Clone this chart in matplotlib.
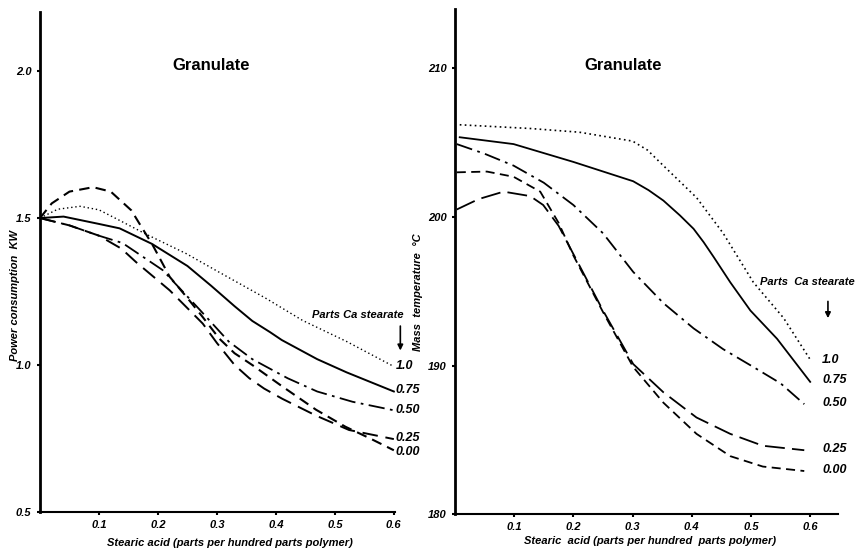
import matplotlib
matplotlib.use("Agg")
import matplotlib.pyplot as plt

plt.rcParams['font.family'] = ['Liberation Sans', 'DejaVu Sans']

# left panel: power consumption (KW) vs stearic acid, per parts Ca stearate
p10_x = [0, 0.03, 0.068, 0.1, 0.135, 0.18, 0.248, 0.3, 0.383, 0.445, 0.52, 0.6]
p10_y = [1.5, 1.53, 1.54, 1.528, 1.492, 1.445, 1.379, 1.32, 1.227, 1.152, 1.08, 0.995]
p075_x = [0, 0.04, 0.1, 0.135, 0.19, 0.25, 0.29, 0.33, 0.36, 0.39, 0.41, 0.47, 0.52, 0.6]
p075_y = [1.5, 1.505, 1.48, 1.465, 1.412, 1.337, 1.27, 1.2, 1.15, 1.112, 1.085, 1.02, 0.975, 0.91]
p050_x = [0, 0.05, 0.1, 0.14, 0.208, 0.27, 0.32, 0.36, 0.383, 0.42, 0.47, 0.53, 0.6]
p050_y = [1.5, 1.475, 1.44, 1.415, 1.323, 1.19, 1.08, 1.02, 0.995, 0.955, 0.91, 0.875, 0.846]
p025_x = [0, 0.05, 0.1, 0.138, 0.163, 0.22, 0.276, 0.3, 0.33, 0.355, 0.38, 0.411, 0.468, 0.524, 0.6]
p025_y = [1.5, 1.475, 1.44, 1.396, 1.35, 1.254, 1.141, 1.075, 1.0, 0.955, 0.92, 0.885, 0.828, 0.779, 0.748]
p000_x = [0, 0.02, 0.05, 0.09, 0.12, 0.155, 0.172, 0.19, 0.22, 0.25, 0.276, 0.304, 0.33, 0.36, 0.411, 0.468, 0.518, 0.56, 0.6]
p000_y = [1.5, 1.55, 1.59, 1.605, 1.59, 1.526, 1.47, 1.412, 1.30, 1.228, 1.163, 1.09, 1.04, 1.0, 0.927, 0.848, 0.79, 0.75, 0.71]

# right panel: mass temperature (deg C)
t10_x = [0.008, 0.127, 0.21, 0.3, 0.325, 0.352, 0.408, 0.453, 0.504, 0.555, 0.6]
t10_y = [206.2, 205.95, 205.7, 205.1, 204.5, 203.45, 201.3, 198.9, 195.6, 193.2, 190.4]
t075_x = [0.008, 0.099, 0.2, 0.301, 0.327, 0.352, 0.38, 0.403, 0.42, 0.437, 0.465, 0.499, 0.544, 0.6]
t075_y = [205.36, 204.9, 203.7, 202.4, 201.8, 201.1, 200.1, 199.2, 198.3, 197.3, 195.6, 193.7, 191.8, 188.9]
t050_x = [0.003, 0.05, 0.099, 0.15, 0.2, 0.25, 0.301, 0.352, 0.403, 0.453, 0.504, 0.55, 0.59]
t050_y = [204.9, 204.25, 203.45, 202.3, 200.8, 198.9, 196.3, 194.2, 192.5, 191.1, 189.9, 188.8, 187.4]
t025_x = [0.003, 0.04, 0.082, 0.127, 0.149, 0.175, 0.2, 0.25, 0.301, 0.352, 0.408, 0.465, 0.52, 0.59]
t025_y = [200.5, 201.2, 201.7, 201.4, 200.8, 199.4, 197.5, 193.7, 190.1, 188.2, 186.5, 185.4, 184.6, 184.3]
t000_x = [0.003, 0.054, 0.099, 0.144, 0.175, 0.2, 0.25, 0.301, 0.352, 0.408, 0.465, 0.52, 0.59]
t000_y = [203.0, 203.05, 202.7, 201.7, 199.6, 197.4, 193.6, 189.9, 187.5, 185.4, 183.9, 183.2, 182.9]

series_names = ['1.0', '0.75', '0.50', '0.25', '0.00']
left_series = [(p10_x, p10_y), (p075_x, p075_y), (p050_x, p050_y), (p025_x, p025_y), (p000_x, p000_y)]
right_series = [(t10_x, t10_y), (t075_x, t075_y), (t050_x, t050_y), (t025_x, t025_y), (t000_x, t000_y)]
left_label_y = [0.996, 0.914, 0.846, 0.751, 0.703]
right_label_y = [190.4, 189.0, 187.5, 184.4, 183.0]

xticks = [0.1, 0.2, 0.3, 0.4, 0.5, 0.6]
left_yticks = [0.5, 1.0, 1.5, 2.0]
right_yticks = [180, 190, 200, 210]

left_styles = [dict(linestyle=(0, (1, 2)), linewidth=1.0),
               dict(linestyle='-', linewidth=1.4),
               dict(linestyle=(0, (9, 3, 1.5, 3)), linewidth=1.3),
               dict(linestyle=(0, (8, 4)), linewidth=1.4),
               dict(linestyle=(0, (5, 3)), linewidth=1.5)]
right_styles = [dict(linestyle=(0, (1, 2)), linewidth=1.2),
                dict(linestyle='-', linewidth=1.3),
                dict(linestyle=(0, (9, 3, 1.5, 3)), linewidth=1.3),
                dict(linestyle=(0, (11, 4)), linewidth=1.3),
                dict(linestyle=(0, (5, 3)), linewidth=1.3)]

lbl = dict(fontsize=8, fontweight='bold', fontstyle='italic')

fig = plt.figure(figsize=(8.58, 5.54), dpi=100)
ax1 = fig.add_axes([0.0466, 0.0758, 0.4138, 0.902])
ax2 = fig.add_axes([0.5303, 0.072, 0.4464, 0.912])


def style_axes(ax, yticks):
    for s in ['top', 'right']:
        ax.spines[s].set_visible(False)
    ax.spines['left'].set_linewidth(2)
    ax.spines['bottom'].set_linewidth(1.5)
    ax.set_xticks(xticks)
    ax.set_xticklabels([f'{v:.1f}' for v in xticks], **lbl)
    ax.set_yticks(yticks)
    ax.tick_params(length=2, width=1.5, pad=4)


# left panel
for (x, y), st in zip(left_series, left_styles):
    ax1.plot(x, y, color='black', **st)
for name, ly in zip(series_names, left_label_y):
    ax1.text(0.603, ly, name, ha='left', va='center', fontsize=9,
             fontweight='bold', fontstyle='italic', clip_on=False)
ax1.set_xlim(0, 0.602)
ax1.set_ylim(0.5, 2.2)
style_axes(ax1, left_yticks)
ax1.set_yticklabels([f'{v:.1f}' for v in left_yticks], **lbl)
ax1.set_ylabel('Power consumption  KW', **lbl)
ax1.yaxis.set_label_coords(-0.056, 0.434)
ax1.set_xlabel('Stearic acid (parts per hundred parts polymer)', **lbl)
ax1.xaxis.set_label_coords(0.535, -0.052)
ax1.text(0.29, 2.02, 'Granulate', ha='center', va='center', fontsize=12, fontweight='bold')
ax1.text(0.539, 1.17, 'Parts Ca stearate', ha='center', va='center', **lbl)
ax1.annotate('', xy=(0.611, 1.04), xytext=(0.611, 1.142), annotation_clip=False,
             arrowprops=dict(arrowstyle='-|>', color='black', lw=1.2, mutation_scale=8))

# right panel
for (x, y), st in zip(right_series, right_styles):
    ax2.plot(x, y, color='black', **st)
for name, ly in zip(series_names, right_label_y):
    ax2.text(0.62, ly, name, ha='left', va='center', fontsize=9,
             fontweight='bold', fontstyle='italic', clip_on=False)
ax2.set_xlim(0, 0.647)
ax2.set_ylim(180, 214)
style_axes(ax2, right_yticks)
ax2.set_yticklabels([str(v) for v in right_yticks], **lbl)
ax2.set_ylabel('Mass  temperature  \u00b0C', **lbl)
ax2.yaxis.set_label_coords(-0.084, 0.44)
ax2.set_xlabel('Stearic  acid (parts per hundred  parts polymer)', **lbl)
ax2.xaxis.set_label_coords(0.509, -0.0436)
ax2.text(0.284, 210.2, 'Granulate', ha='center', va='center', fontsize=12, fontweight='bold')
ax2.text(0.596, 195.6, 'Parts  Ca stearate', ha='center', va='center', **lbl)
ax2.annotate('', xy=(0.63, 193.0), xytext=(0.63, 194.5), annotation_clip=False,
             arrowprops=dict(arrowstyle='-|>', color='black', lw=1.2, mutation_scale=8))

fig.savefig('out.png', dpi=100)
